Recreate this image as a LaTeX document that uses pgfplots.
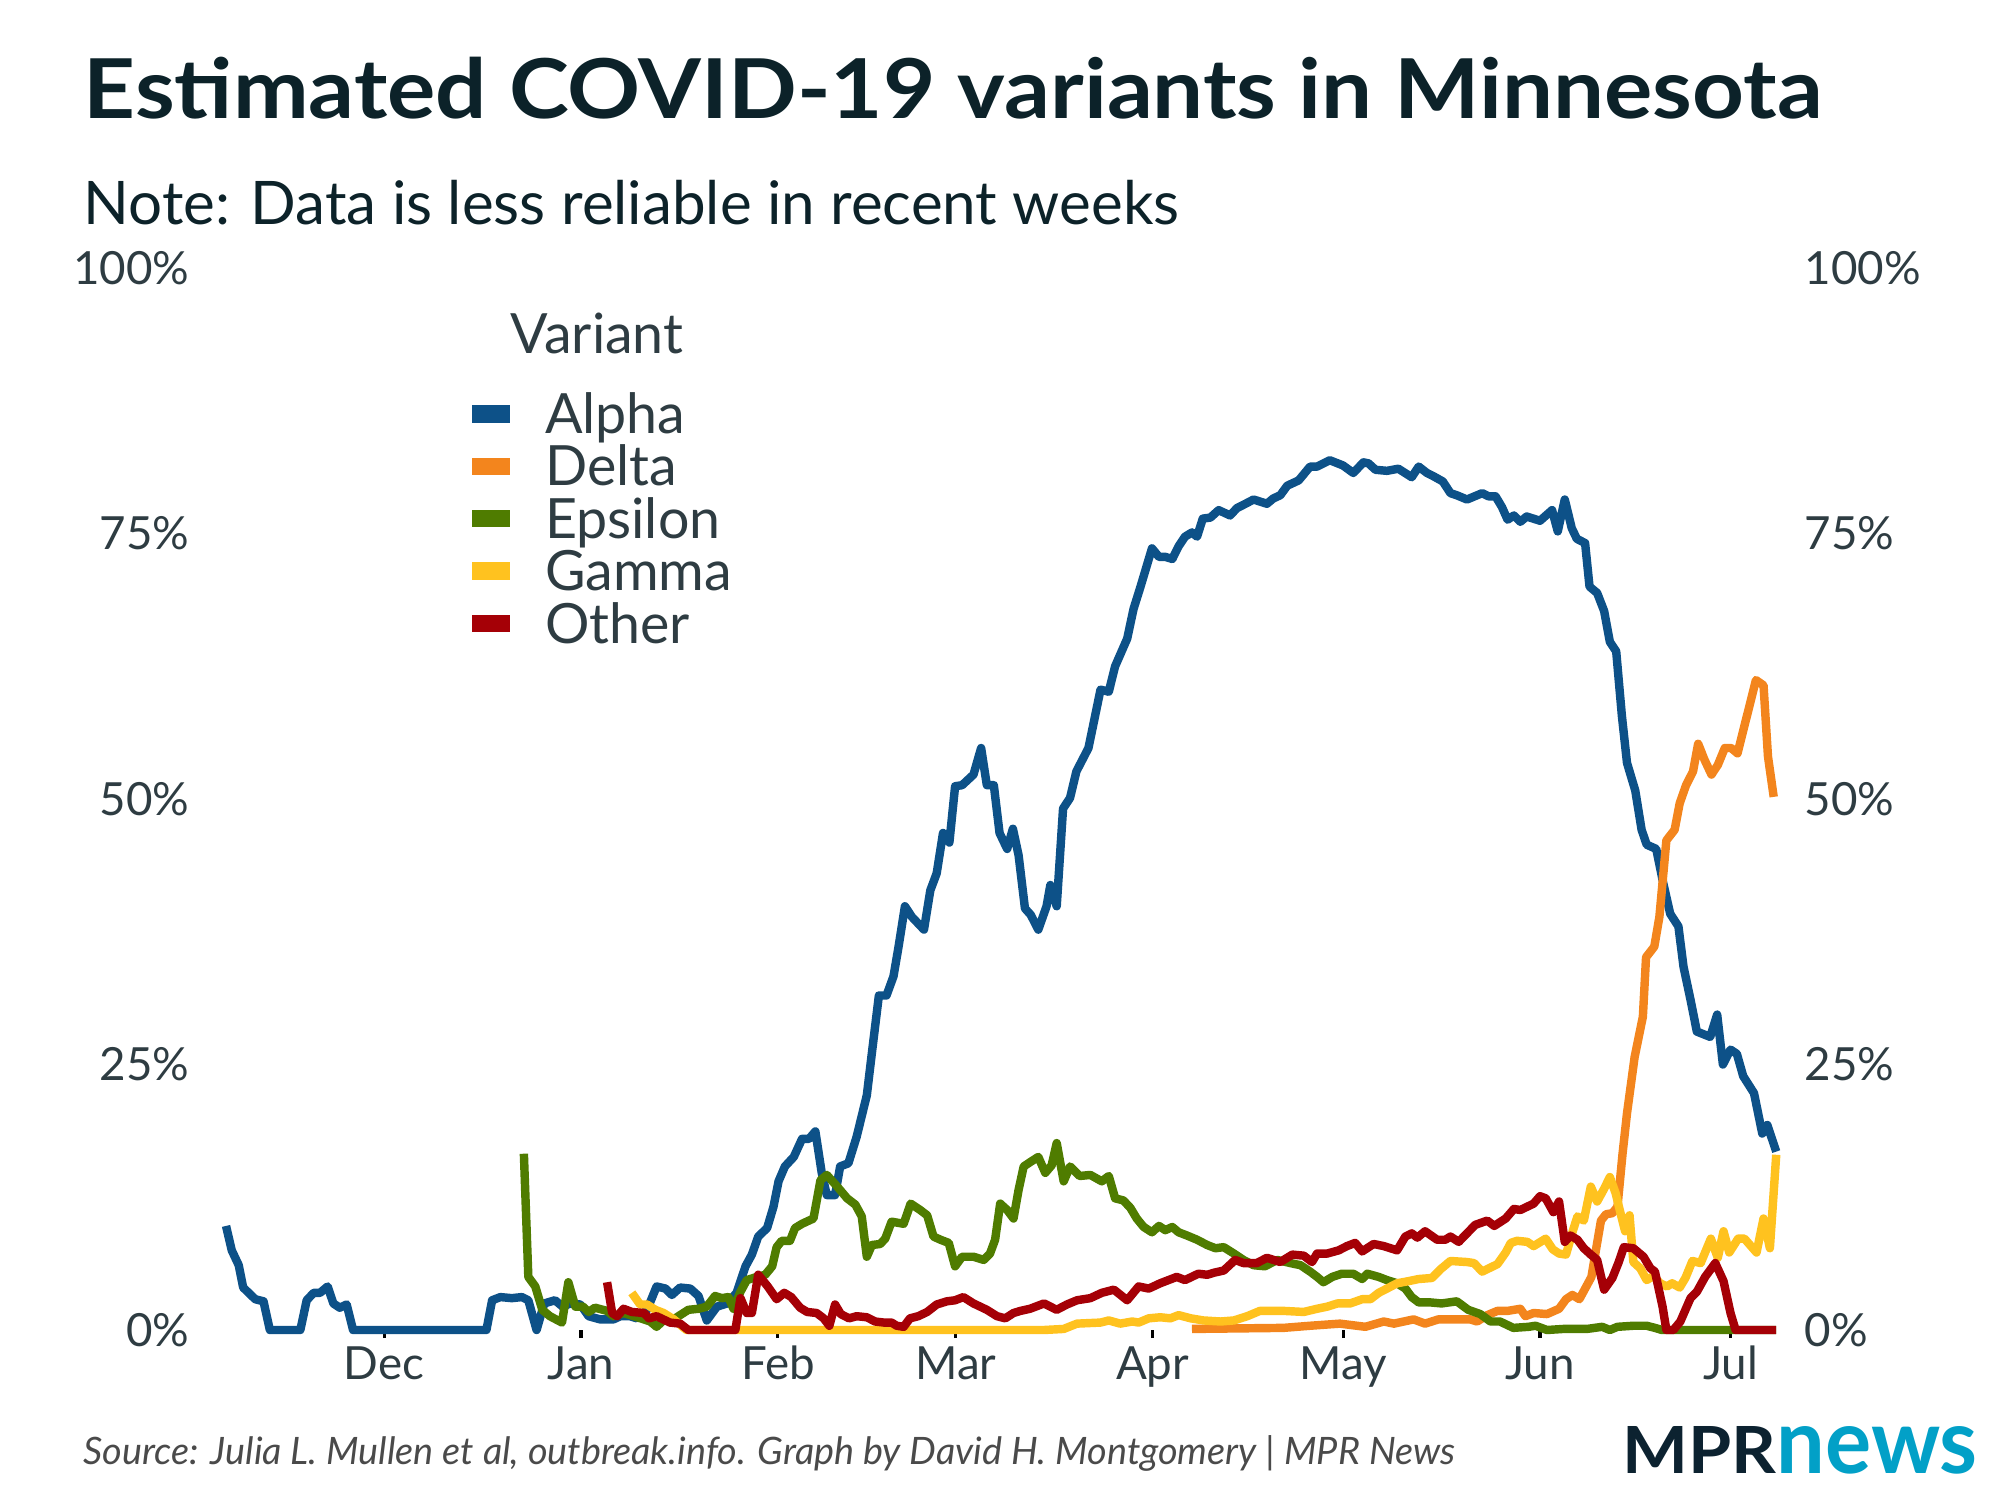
\documentclass[border=0pt]{standalone}
\usepackage{fontspec}
\setmainfont{Lato}
\newfontfamily\titlefont{Lato}[FakeStretch=1.095]
\usepackage{pgfplots}
\pgfplotsset{compat=1.18}
\definecolor{cAlpha}{HTML}{0D5188}
\definecolor{cDelta}{HTML}{F3851D}
\definecolor{cEpsilon}{HTML}{4F7C00}
\definecolor{cGamma}{HTML}{FFC21F}
\definecolor{cOther}{HTML}{A50006}
\definecolor{titlec}{HTML}{0C2229}
\definecolor{tickc}{HTML}{2E3C42}
\definecolor{capc}{HTML}{4A4A4A}
\definecolor{mprdark}{HTML}{0C2230}
\definecolor{mprblue}{HTML}{02A0C7}
\begin{document}
\begin{tikzpicture}
\useasboundingbox (0,0) rectangle (20,15);
\begin{axis}[
  at={(2.00cm,1.70cm)}, anchor=south west,
  scale only axis, width=15.94cm, height=10.62cm,
  xmin=-29, xmax=222, ymin=0, ymax=100, clip=false,
  axis x line*=bottom, axis y line*=left,
  axis line style={draw=none},
  xtick={0,31,62,90,121,151,182,212},
  xticklabels={Dec,Jan,Feb,Mar,Apr,May,Jun,Jul},
  ytick={0,25,50,75,100},
  yticklabels={0\%,25\%,50\%,75\%,100\%},
  tick align=outside, major tick length=0.08cm,
  x tick style={black, line width=0.9pt},
  y tick style={draw=none},
  ticklabel style={font=\fontsize{13}{15}\selectfont, text=tickc, inner sep=0pt},
  xticklabel style={anchor=base, yshift=-0.41cm},
  yticklabel style={anchor=east, xshift=-0.02cm},
  legend style={at={(0.1705,0.8872)}, anchor=north west, draw=none, fill=none,
    inner sep=0pt, outer sep=0pt, font=\fontsize{15.8}{18}\selectfont, text=tickc,
    row sep=0pt,
    nodes={inner sep=0pt, text height=0.457cm, text depth=0.067cm},
    /tikz/every odd column/.append style={column sep=0.35cm}},
  legend cell align=left,
  legend image code/.code={\fill[#1, draw=none] (0cm,-0.087cm) rectangle (0.383cm,0.087cm);},
  every axis plot/.append style={line width=2.4pt, line join=round, line cap=butt},
]
\addplot[cAlpha] coordinates {
(-24.9,9.8) (-24.0,7.5) (-22.9,6.1) (-22.2,4.0) (-20.3,2.9) (-19.0,2.7) (-18.0,0) (-13.2,0)
(-12.2,2.8) (-11.1,3.5) (-10.1,3.5) (-8.9,4.1) (-8.0,2.5) (-7.0,2.1) (-5.9,2.4) (-4.9,0)
(16.1,0) (17.0,2.8) (18.3,3.1) (20.1,3.0) (21.7,3.1) (22.7,2.8) (24.0,0) (25.2,2.5)
(26.9,2.8) (28.1,2.2) (29.3,2.5) (30.9,2.4) (32.2,1.3) (34.0,1.0) (36.1,1.0) (37.2,1.3)
(38.7,1.3) (39.8,1.1) (41.4,1.9) (42.9,4.1) (44.3,3.9) (45.3,3.3) (46.6,4.0) (48.2,3.9)
(49.5,3.2) (50.8,0.9) (52.4,2.2) (54.0,2.5) (55.5,3.5) (56.9,6.0) (57.9,7.1) (58.9,8.8)
(60.3,9.6) (61.3,11.6) (62.1,14.0) (63.1,15.4) (64.5,16.3) (65.8,18.0) (66.9,18.0) (67.9,18.7)
(68.9,14.8) (69.7,12.7) (71.0,12.7) (71.8,15.4) (73.1,15.7) (74.4,18.2) (76.0,22.1) (76.8,26.1)
(77.9,31.5) (79.1,31.5) (80.2,33.3) (81.0,36.1) (82.0,39.9) (83.1,38.9) (85.0,37.7) (86.0,41.4)
(87.0,43.0) (88.0,46.8) (89.0,45.9) (89.9,51.2) (91.0,51.3) (92.8,52.3) (94.0,54.8) (94.9,51.3)
(96.0,51.3) (96.9,46.8) (98.1,45.3) (99.0,47.2) (99.9,44.7) (100.9,39.7) (101.8,39.1) (103.0,37.7)
(104.3,39.9) (104.9,41.9) (105.9,39.9) (106.9,49.1) (108.0,50.1) (109.0,52.6) (110.9,54.8) (112.8,60.3)
(114.1,60.1) (115.1,62.5) (117.0,65.1) (118.0,67.9) (119.1,70.0) (120.9,73.6) (122.0,72.8) (123.0,72.8)
(124.1,72.6) (125.1,73.8) (126.1,74.7) (127.2,75.1) (128.0,74.7) (128.9,76.4) (130.1,76.5) (131.4,77.2)
(133.2,76.7) (134.3,77.4) (135.3,77.7) (136.9,78.2) (139.0,77.8) (140.0,78.3) (141.1,78.6) (142.2,79.5)
(144.0,80.0) (145.8,81.3) (146.9,81.3) (148.9,81.9) (151.0,81.4) (152.6,80.7) (154.2,81.7) (155.0,81.6)
(156.1,81.0) (157.9,80.9) (159.7,81.1) (161.8,80.3) (162.9,81.3) (164.2,80.7) (165.2,80.4) (166.7,79.9)
(167.9,78.8) (168.9,78.6) (170.5,78.2) (172.9,78.8) (173.9,78.5) (175.0,78.5) (176.0,77.5) (176.9,76.3)
(177.9,76.7) (178.9,76.1) (179.9,76.6) (182.0,76.2) (183.9,77.2) (184.8,75.2) (185.9,78.2) (187.0,75.5)
(187.8,74.5) (189.1,74.1) (189.8,70.0) (191.0,69.4) (192.1,67.7) (193.0,64.8) (194.0,63.9) (194.9,57.8)
(195.7,53.4) (197.0,50.8) (198.0,47.1) (198.8,45.7) (200.3,45.3) (201.4,42.1) (202.5,39.2) (203.8,38.0)
(204.6,34.2) (205.7,31.1) (206.7,28.1) (208.8,27.6) (209.9,29.7) (210.8,25.0) (212.0,26.4) (213.0,26.0)
(214.0,23.9) (215.7,22.3) (217.0,18.5) (217.8,19.3) (219.2,16.8)
};
\addlegendentry{Alpha}
\addplot[cDelta] coordinates {
(127.2,0.1) (141.6,0.2) (145.8,0.4) (150.5,0.6) (154.5,0.3) (157.4,0.8) (159.0,0.6) (162.1,1.0)
(163.9,0.6) (166.0,1.0) (168.9,1.0) (171.0,1.0) (172.1,0.8) (173.7,1.4) (175.3,1.8) (176.9,1.8)
(178.9,2.0) (179.7,1.3) (181.0,1.6) (183.1,1.5) (185.0,2.0) (186.1,2.9) (187.1,3.3) (188.2,2.9)
(189.2,4.0) (190.1,5.0) (190.8,7.5) (191.6,10.3) (192.4,10.9) (193.4,11.0) (194.2,11.6) (195.0,16.6)
(195.7,20.4) (196.9,25.7) (198.2,29.5) (198.7,35.1) (200.0,36.1) (200.8,38.9) (201.9,46.1) (203.2,47.1)
(204.0,49.6) (205.0,51.3) (206.1,52.6) (206.9,55.2) (207.9,53.7) (209.0,52.3) (210.0,53.2) (211.1,54.8)
(212.1,54.8) (213.1,54.3) (214.7,58.1) (216.0,61.2) (217.2,60.7) (217.9,54.0) (218.8,50.2)
};
\addlegendentry{Delta}
\addplot[cEpsilon] coordinates {
(22.0,16.6) (22.7,5.0) (23.8,4.1) (24.9,1.9) (26.1,1.3) (28.0,0.7) (29.0,4.5) (30.1,2.2)
(31.3,2.2) (32.2,1.7) (33.2,2.1) (35.1,1.8) (36.1,1.3) (37.7,1.6) (39.3,1.3) (40.9,1.0)
(41.9,0.8) (42.9,0.3) (44.3,1.1) (45.6,1.0) (46.6,1.4) (47.9,1.9) (49.5,2.0) (50.8,2.2)
(52.1,3.2) (53.2,3.0) (54.2,3.1) (55.0,2.0) (56.1,3.6) (57.1,4.7) (58.7,5.0) (60.0,5.2)
(61.1,6.0) (61.8,7.8) (62.6,8.4) (63.9,8.4) (64.7,9.6) (65.8,10.0) (67.6,10.5) (68.7,14.1)
(69.7,14.6) (71.2,13.6) (72.9,12.4) (74.2,11.8) (75.2,10.7) (76.0,6.9) (76.8,8.0) (78.1,8.1)
(78.9,8.6) (79.9,10.2) (81.8,10.0) (82.9,11.9) (84.4,11.3) (85.5,10.8) (86.5,8.8) (87.6,8.5)
(88.9,8.2) (89.9,6.0) (91.0,6.9) (92.8,6.9) (94.4,6.6) (95.4,7.2) (96.2,8.5) (97.0,11.9)
(98.1,11.3) (99.1,10.5) (99.9,13.2) (100.7,15.4) (101.7,15.8) (103.0,16.3) (104.1,14.8) (105.1,15.5)
(105.9,17.6) (107.0,14.0) (108.0,15.4) (109.5,14.5) (111.2,14.6) (113.0,14.0) (114.1,14.5) (115.1,12.4)
(116.4,12.2) (117.5,11.5) (118.5,10.5) (119.6,9.7) (120.9,9.2) (122.0,9.8) (123.0,9.4) (124.1,9.7)
(125.1,9.2) (126.4,8.9) (128.0,8.5) (129.6,8.0) (130.9,7.7) (132.2,7.8) (133.8,7.2) (135.3,6.6)
(136.9,6.1) (138.7,6.0) (140.6,6.6) (142.7,6.3) (144.3,6.1) (145.8,5.5) (146.9,5.0) (147.9,4.5)
(149.3,5.0) (150.8,5.3) (152.6,5.3) (154.0,4.8) (154.8,5.3) (156.6,5.0) (157.9,4.7) (159.5,4.4)
(160.8,3.9) (161.8,3.1) (162.9,2.6) (164.7,2.6) (166.5,2.5) (168.9,2.7) (170.7,1.9) (172.6,1.5)
(174.2,0.8) (175.7,0.8) (177.8,0.2) (180.2,0.3) (181.3,0.4) (183.1,0) (185.7,0.1) (189.4,0.1)
(191.8,0.3) (193.0,0) (194.2,0.3) (196.7,0.4) (198.8,0.4) (200.1,0.2) (201.2,0) (219.2,0)
};
\addlegendentry{Epsilon}
\addplot[cGamma] coordinates {
(39.0,3.5) (40.3,2.4) (41.4,2.4) (42.7,1.9) (44.0,1.6) (45.6,1.0) (47.6,0) (103.9,0)
(107.0,0.1) (109.1,0.6) (112.8,0.7) (114.1,0.9) (115.9,0.6) (117.8,0.8) (118.8,0.7) (120.4,1.1)
(122.2,1.2) (123.8,1.1) (125.1,1.4) (127.0,1.1) (129.0,0.9) (131.7,0.8) (133.8,0.9) (135.9,1.3)
(137.9,1.8) (139.5,1.8) (141.6,1.8) (144.8,1.7) (146.9,2.0) (148.5,2.2) (150.1,2.5) (152.1,2.5)
(154.0,2.9) (155.3,2.9) (156.6,3.5) (157.9,3.9) (159.5,4.4) (161.3,4.6) (162.9,4.8) (165.0,4.9)
(166.3,5.7) (167.9,6.5) (170.5,6.4) (171.6,6.3) (172.9,5.5) (175.3,6.2) (176.6,7.3) (177.4,8.2)
(178.4,8.4) (180.0,8.3) (181.0,7.9) (182.9,8.6) (184.0,7.6) (185.0,7.2) (186.1,7.1) (187.1,9.2)
(187.9,10.7) (188.9,10.3) (190.0,13.5) (191.0,12.1) (192.1,13.3) (193.0,14.4) (193.9,12.9) (194.6,11.2)
(195.4,9.3) (196.1,10.8) (196.7,6.4) (197.8,5.8) (198.8,4.7) (199.9,5.1) (200.9,4.4) (202.0,4.1)
(202.8,4.4) (204.0,4.0) (204.9,4.9) (206.0,6.5) (207.3,6.3) (208.9,8.6) (210.0,6.8) (210.9,9.3)
(211.8,7.3) (213.2,8.6) (214.2,8.6) (216.1,7.3) (217.2,10.5) (218.2,7.7) (219.2,16.5)
};
\addlegendentry{Gamma}
\addplot[cOther] coordinates {
(35.1,4.5) (35.9,1.6) (36.7,1.3) (37.7,2.0) (39.0,1.7) (40.9,1.6) (41.7,1.1) (42.9,1.3)
(45.0,0.7) (46.6,0.6) (47.9,0) (55.3,0) (56.1,3.0) (57.1,1.6) (57.9,1.6) (58.9,5.2)
(60.4,4.1) (61.8,2.9) (63.0,3.5) (64.1,3.1) (65.5,2.1) (66.6,1.7) (68.1,1.6) (69.2,1.1)
(70.1,0.4) (71.0,2.4) (71.9,1.5) (73.2,1.1) (74.4,1.3) (76.0,1.2) (77.3,0.8) (78.7,0.7)
(79.9,0.7) (80.7,0.4) (81.8,0.3) (82.8,1.1) (84.1,1.3) (85.5,1.7) (87.0,2.4) (88.6,2.7)
(89.9,2.8) (91.2,3.1) (92.8,2.5) (94.9,1.9) (96.5,1.3) (97.8,1.1) (99.1,1.6) (100.2,1.8)
(101.7,2.0) (103.9,2.5) (105.9,1.9) (107.5,2.4) (109.1,2.8) (111.2,3.0) (113.0,3.5) (114.9,3.8)
(117.0,2.8) (118.8,4.1) (120.4,3.9) (122.2,4.4) (124.8,5.0) (126.1,4.7) (128.2,5.3) (129.6,5.2)
(130.7,5.4) (132.2,5.6) (134.0,6.6) (135.3,6.3) (137.4,6.3) (139.0,6.8) (141.1,6.4) (143.0,7.1)
(144.8,7.0) (146.1,6.4) (146.9,7.2) (148.5,7.2) (150.3,7.5) (151.6,7.9) (152.9,8.2) (154.0,7.4)
(155.8,8.1) (157.4,7.9) (159.5,7.5) (160.8,8.8) (161.8,9.1) (162.7,8.7) (163.9,9.3) (165.8,8.5)
(167.1,8.5) (167.9,8.8) (169.2,8.3) (171.8,9.9) (173.7,10.3) (174.8,9.8) (176.6,10.5) (177.9,11.4)
(178.9,11.3) (181.0,11.9) (182.0,12.6) (182.9,12.4) (184.1,11.1) (185.0,12.1) (185.9,8.3) (186.8,8.9)
(187.9,8.5) (188.9,7.7) (190.0,7.1) (191.0,6.6) (192.1,3.8) (193.4,4.9) (194.4,6.4) (195.2,7.8)
(196.7,7.7) (198.3,6.9) (199.4,5.8) (200.1,5.5) (201.3,2.2) (201.9,0) (203.0,0) (204.1,0.8)
(205.7,3.0) (206.7,3.6) (208.0,5.0) (209.6,6.3) (210.9,4.6) (212.0,1.6) (212.8,0) (219.2,0)
};
\addlegendentry{Other}
\end{axis}
\begin{axis}[
  at={(2.00cm,1.70cm)}, anchor=south west,
  scale only axis, width=15.94cm, height=10.62cm,
  xmin=-29, xmax=222, ymin=0, ymax=100,
  hide x axis, axis y line*=right, axis line style={draw=none},
  ytick={0,25,50,75,100},
  yticklabels={0\%,25\%,50\%,75\%,100\%},
  y tick style={draw=none},
  yticklabel style={font=\fontsize{13}{15}\selectfont, text=tickc, inner sep=0pt, anchor=west, xshift=0.10cm},
]
\addplot[draw=none] coordinates {(0,0)};
\end{axis}
\node[anchor=base west, inner sep=0, font=\titlefont\fontsize{23.5}{27}\selectfont\bfseries, text=titlec] at (0.83,13.81) {Estimated COVID-19 variants in Minnesota};
\node[anchor=base west, inner sep=0, font=\fontsize{17.1}{20}\selectfont, text=titlec] at (0.83,12.75) {Note: Data is less reliable in recent weeks};
\node[anchor=base west, inner sep=0, font=\fontsize{15.8}{18}\selectfont, text=tickc] at (5.10,11.46) {Variant};
\node[anchor=base west, inner sep=0, font=\fontsize{10.75}{13}\selectfont\itshape, text=capc] at (0.83,0.36) {Source: Julia L. Mullen et al, outbreak.info. Graph by David H. Montgomery | MPR News};
\node[anchor=base west, inner sep=0] at (16.22,0.27) {\color{mprdark}\resizebox{1.54cm}{0.47cm}{\bfseries MPR}};
\node[anchor=base west, inner sep=0] at (17.76,0.27) {\color{mprblue}\resizebox{2.01cm}{0.47cm}{\bfseries news}};
\end{tikzpicture}
\end{document}
